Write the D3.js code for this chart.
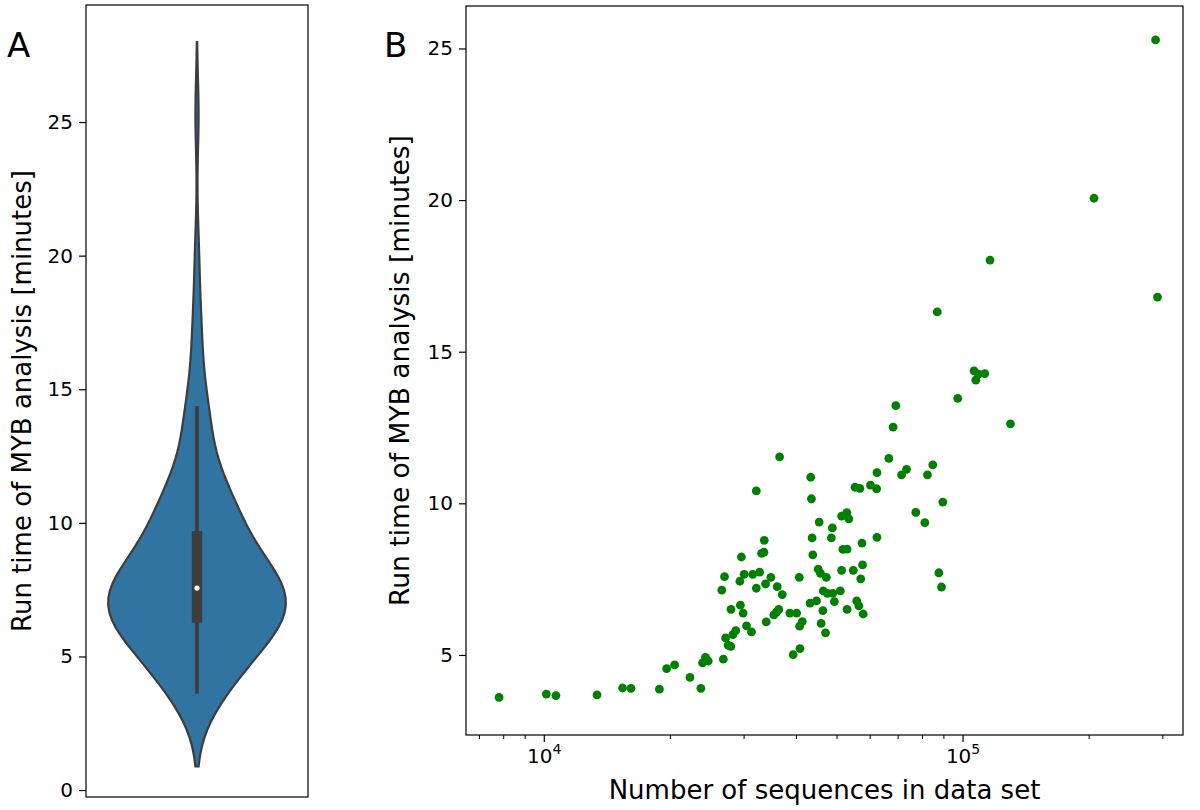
<!DOCTYPE html>
<html>
<head>
<meta charset="utf-8">
<script src="https://cdn.jsdelivr.net/npm/d3@7"></script>
<style>
  body { margin: 0; background: #fff; }
  text { font-family: "DejaVu Sans", sans-serif; fill: #000; }
</style>
</head>
<body>
<svg id="fig" width="1200" height="810"></svg>
<script>
// number of sequences per data set (x, panel B)
const seqCounts = [
  7820, 10140, 10690, 13400, 15420, 16150, 18880, 19650, 20530, 22340,
  23720, 23940, 24330, 24700, 26840, 27170, 27550, 27950, 28280, 28730,
  27990, 29470, 29920, 30480, 31330, 26610, 27010, 29390, 30090, 31540,
  32760, 32170, 33850, 34850, 36090, 37100, 33970, 35430, 35950, 36400,
  38680, 40160, 40820, 41420, 39400, 40900, 40740, 43230, 44790, 45210,
  45780, 47280, 46490, 47570, 48960, 51060, 46400, 49420, 45950, 47070,
  51420, 54820, 57700, 57120, 52990, 55870, 56540, 57910, 36560, 32170,
  43390, 43560, 55360, 56840, 60260, 62340, 62450, 45450, 48870, 51420,
  52910, 53510, 43720, 48600, 33610, 33120, 33540, 29640, 43890, 51780,
  52990, 57520, 62450, 87000, 106520, 109100, 112970, 107520, 97390, 69280,
  68250, 130120, 66670, 84890, 73480, 71490, 82440, 89700, 77320, 81270,
  87770, 89070, 289000, 292000, 206000, 116300
];
// run time in minutes (y, both panels)
const runTimes = [
  3.60, 3.71, 3.66, 3.68, 3.91, 3.90, 3.87, 4.55, 4.67, 4.26,
  3.90, 4.74, 4.92, 4.80, 4.86, 5.56, 5.32, 5.28, 5.67, 5.80,
  6.50, 6.64, 6.38, 5.96, 5.76, 7.14, 7.58, 7.43, 7.66, 7.66,
  7.73, 7.20, 7.34, 7.56, 7.25, 6.99, 6.09, 6.32, 6.41, 6.50,
  6.38, 6.38, 5.95, 6.10, 5.01, 5.21, 7.56, 6.71, 6.78, 7.83,
  7.69, 7.56, 7.11, 7.03, 7.03, 7.11, 6.46, 6.76, 6.04, 5.73,
  7.79, 7.79, 7.97, 7.51, 6.50, 6.78, 6.62, 6.35, 11.53, 10.41,
  10.86, 10.15, 10.53, 10.49, 10.60, 10.48, 11.01, 9.38, 9.19, 9.58,
  9.69, 9.49, 8.86, 8.86, 8.78, 8.35, 8.39, 8.23, 8.30, 8.48,
  8.49, 8.69, 8.88, 16.31, 14.37, 14.26, 14.28, 14.06, 13.46, 13.22,
  12.51, 12.62, 11.48, 11.27, 11.12, 10.94, 10.94, 10.04, 9.70, 9.36,
  7.71, 7.24, 25.28, 16.80, 20.06, 18.02
];
const yTicksA = [0, 5, 10, 15, 20, 25];
const yTicksB = [5, 10, 15, 20, 25];
const xMajorB = [1e4, 1e5];
const xMinorB = [7000, 8000, 9000, 20000, 30000, 40000, 50000, 60000, 70000, 80000, 90000, 200000, 300000];

const svg = d3.select("#fig");

// ---------- panel A : violin ----------
const A = { left: 86, right: 308, top: 5, bottom: 797 };
const xA = d3.scaleLinear().domain([-0.5, 0.5]).range([A.left, A.right]);
const yA = d3.scaleLinear().domain([-0.26, 29.38]).range([A.bottom, A.top]);

// gaussian kde, scott bandwidth, cut = 2 (seaborn style)
const sorted = runTimes.slice().sort(d3.ascending);
const n = sorted.length;
const bw = d3.deviation(sorted) * Math.pow(n, -1 / 5);
const lo = sorted[0] - 2 * bw, hi = sorted[n - 1] + 2 * bw;
const grid = d3.range(100).map(i => lo + (hi - lo) * i / 99);
const dens = grid.map(g => d3.sum(sorted, v => Math.exp(-0.5 * ((g - v) / bw) ** 2)));
const dMax = d3.max(dens);
const violin = grid.map((g, i) => ({ y: g, w: 0.4 * dens[i] / dMax }));

const area = d3.area()
  .y(d => yA(d.y))
  .x0(d => xA(-d.w))
  .x1(d => xA(d.w))
  .curve(d3.curveLinear);

const gA = svg.append("g");
gA.append("path")
  .datum(violin)
  .attr("d", area)
  .attr("fill", "#3274a1")
  .attr("stroke", "#3d3d3d")
  .attr("stroke-width", 2.2);

const q1 = d3.quantile(sorted, 0.25), q3 = d3.quantile(sorted, 0.75), med = d3.quantile(sorted, 0.5);
const iqr = q3 - q1;
const wLo = d3.min(sorted.filter(v => v >= q1 - 1.5 * iqr));
const wHi = d3.max(sorted.filter(v => v <= q3 + 1.5 * iqr));

gA.append("line")
  .attr("x1", xA(0)).attr("x2", xA(0))
  .attr("y1", yA(wLo)).attr("y2", yA(wHi))
  .attr("stroke", "#3d3d3d").attr("stroke-width", 3.6);
gA.append("line")
  .attr("x1", xA(0)).attr("x2", xA(0))
  .attr("y1", yA(q1)).attr("y2", yA(q3))
  .attr("stroke", "#3d3d3d").attr("stroke-width", 10.5);
gA.append("circle")
  .attr("cx", xA(0)).attr("cy", yA(med)).attr("r", 2.6)
  .attr("fill", "#fff");

gA.append("rect")
  .attr("x", A.left).attr("y", A.top)
  .attr("width", A.right - A.left).attr("height", A.bottom - A.top)
  .attr("fill", "none").attr("stroke", "#000").attr("stroke-width", 1.2);

const axA = gA.append("g")
  .attr("transform", `translate(${A.left},0)`)
  .call(d3.axisLeft(yA).tickValues(yTicksA).tickSize(7).tickPadding(6));
axA.select(".domain").remove();
axA.selectAll(".tick line").attr("stroke-width", 1.2);
axA.selectAll("text").style("font-size", "20px").attr("font-family", "DejaVu Sans");

svg.append("text")
  .attr("transform", `translate(31,${(A.top + A.bottom) / 2}) rotate(-90)`)
  .attr("text-anchor", "middle")
  .style("font-size", "26px")
  .text("Run time of MYB analysis [minutes]");

svg.append("text").attr("x", 7).attr("y", 57).style("font-size", "34px").text("A");

// ---------- panel B : scatter ----------
const B = { left: 466, right: 1183, top: 6, bottom: 735 };
const xB = d3.scaleLog().domain([6520, 336000]).range([B.left, B.right]);
const yB = d3.scaleLinear().domain([2.36, 26.4]).range([B.bottom, B.top]);

const gB = svg.append("g");
gB.append("g")
  .selectAll("circle")
  .data(seqCounts.map((s, i) => ({ s, t: runTimes[i] })))
  .join("circle")
  .attr("cx", d => xB(d.s))
  .attr("cy", d => yB(d.t))
  .attr("r", 4.4)
  .attr("fill", "#008000");

gB.append("rect")
  .attr("x", B.left).attr("y", B.top)
  .attr("width", B.right - B.left).attr("height", B.bottom - B.top)
  .attr("fill", "none").attr("stroke", "#000").attr("stroke-width", 1.2);

const axBy = gB.append("g")
  .attr("transform", `translate(${B.left},0)`)
  .call(d3.axisLeft(yB).tickValues(yTicksB).tickSize(7).tickPadding(6));
axBy.select(".domain").remove();
axBy.selectAll(".tick line").attr("stroke-width", 1.2);
axBy.selectAll("text").style("font-size", "20px").attr("font-family", "DejaVu Sans");

const axBxMinor = gB.append("g")
  .attr("transform", `translate(0,${B.bottom})`)
  .call(d3.axisBottom(xB).tickValues(xMinorB).tickSize(4).tickFormat(""));
axBxMinor.select(".domain").remove();
axBxMinor.selectAll(".tick line").attr("stroke-width", 1);

const axBx = gB.append("g")
  .attr("transform", `translate(0,${B.bottom})`)
  .call(d3.axisBottom(xB).tickValues(xMajorB).tickSize(7).tickPadding(6).tickFormat(""));
axBx.select(".domain").remove();
axBx.selectAll(".tick line").attr("stroke-width", 1.2);
axBx.selectAll(".tick").each(function (d) {
  const t = d3.select(this).select("text")
    .attr("y", 28).attr("dy", null)
    .style("font-size", "20px").attr("font-family", "DejaVu Sans");
  t.append("tspan").text("10");
  t.append("tspan").attr("dy", -9).style("font-size", "14px").text(Math.round(Math.log10(d)));
});

svg.append("text")
  .attr("x", (B.left + B.right) / 2).attr("y", 799)
  .attr("text-anchor", "middle")
  .style("font-size", "26px")
  .text("Number of sequences in data set");

svg.append("text")
  .attr("transform", `translate(409,${(B.top + B.bottom) / 2}) rotate(-90)`)
  .attr("text-anchor", "middle")
  .style("font-size", "26.5px")
  .text("Run time of MYB analysis [minutes]");

svg.append("text").attr("x", 384).attr("y", 57).style("font-size", "34px").text("B");
</script>
</body>
</html>
